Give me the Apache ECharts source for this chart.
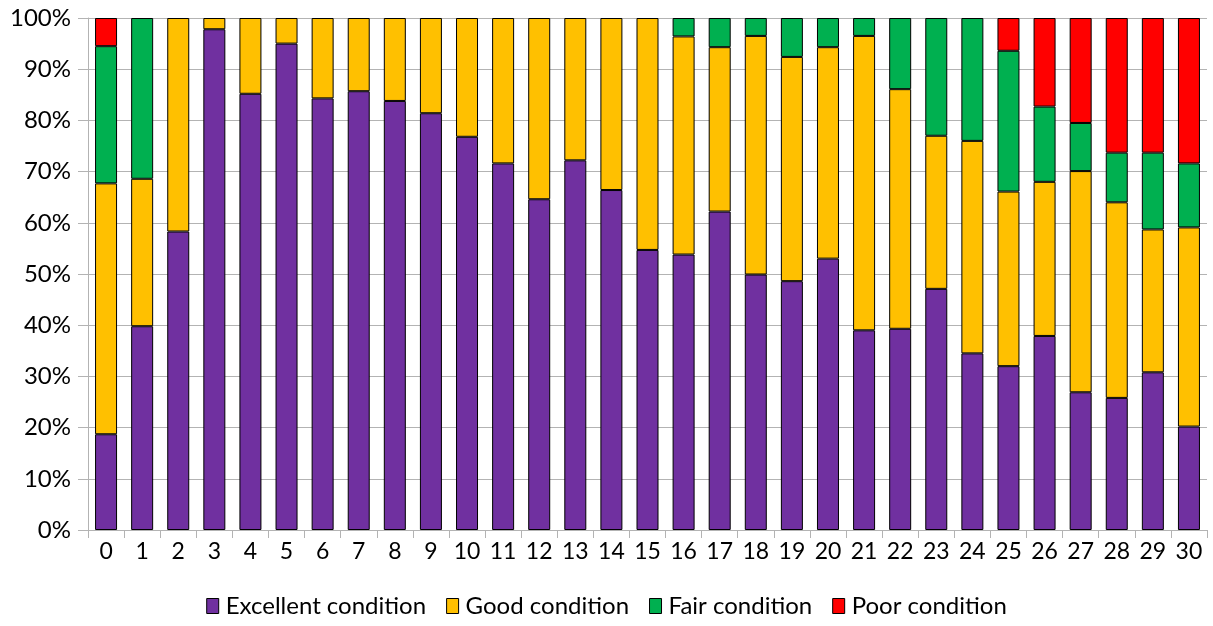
<!DOCTYPE html>
<html>
<head>
<meta charset="utf-8">
<script src="https://cdn.jsdelivr.net/npm/echarts@6/dist/echarts.min.js"></script>
<style>
  html, body { margin: 0; padding: 0; background: #fff; }
  #chart { width: 1213px; height: 626px; }
</style>
</head>
<body>
<div id="chart"></div>
<script>
// categories 0..30
var categories = [];
for (var i = 0; i <= 30; i++) categories.push(String(i));

// percentages
var excellent = [18.7, 39.8, 58.3, 97.8, 85.2, 95.0, 84.3, 85.7, 83.8, 81.4, 76.8, 71.6, 64.6, 72.2, 66.4, 54.7,
  53.8, 62.2, 49.9, 48.6, 53.0, 39.0, 39.3, 47.1, 34.5, 32.0, 37.9, 26.9, 25.8, 30.8, 20.2];
var good = [49.0, 28.8, 41.7, 2.2, 14.8, 5.0, 15.7, 14.3, 16.2, 18.6, 23.2, 28.4, 35.4, 27.8, 33.6, 45.3,
  42.6, 32.1, 46.6, 43.8, 41.3, 57.5, 46.8, 29.9, 41.5, 34.1, 30.1, 43.2, 38.2, 27.9, 38.9];
var fair = [26.8, 31.4, 0, 0, 0, 0, 0, 0, 0, 0, 0, 0, 0, 0, 0, 0,
  3.6, 5.7, 3.5, 7.6, 5.7, 3.5, 13.9, 23.0, 24.0, 27.5, 14.7, 9.4, 9.7, 15.0, 12.5];
var poor = [5.5, 0, 0, 0, 0, 0, 0, 0, 0, 0, 0, 0, 0, 0, 0, 0,
  0, 0, 0, 0, 0, 0, 0, 0, 0, 6.4, 17.3, 20.5, 26.3, 26.3, 28.4];

var seriesNames = ['Excellent condition', 'Good condition', 'Fair condition', 'Poor condition'];
var seriesData = [excellent, good, fair, poor];
var colors = ['#7030a0', '#ffc000', '#00b050', '#ff0000'];

var font = 'Lato, "Liberation Sans", sans-serif';

var chart = echarts.init(document.getElementById('chart'), null, { renderer: 'canvas' });

var series = seriesNames.map(function (name, k) {
  return {
    name: name,
    type: 'bar',
    stack: 'total',
    barWidth: 22,
    // empty segments left out so they don't draw a border line
    data: seriesData[k].map(function (v) { return v === 0 ? '-' : v; }),
    itemStyle: { color: colors[k], borderColor: '#000', borderWidth: 1 }
  };
});

chart.setOption({
  animation: false,
  color: colors,
  grid: { left: 88, right: 6, top: 18, bottom: 96, containLabel: false },
  legend: {
    bottom: 3,
    left: 'center',
    itemWidth: 12,
    itemHeight: 15,
    itemGap: 20,
    icon: 'rect',
    itemStyle: { borderColor: '#000', borderWidth: 1 },
    textStyle: { fontFamily: font, fontSize: 24, color: '#000', padding: [0, 0, 0, 2] },
    data: seriesNames
  },
  xAxis: {
    type: 'category',
    data: categories,
    boundaryGap: true,
    axisLine: { lineStyle: { color: '#b3b3b3', width: 1 } },
    axisTick: { show: true, alignWithLabel: false, length: 8, lineStyle: { color: '#b3b3b3' } },
    axisLabel: { fontFamily: font, fontSize: 23, color: '#000', margin: 10, interval: 0 }
  },
  yAxis: {
    type: 'value',
    min: 0,
    max: 100,
    interval: 10,
    axisLine: { show: true, lineStyle: { color: '#b3b3b3', width: 1 } },
    axisTick: { show: true, length: 10, lineStyle: { color: '#b3b3b3' } },
    splitLine: { lineStyle: { color: '#b3b3b3', width: 1 } },
    axisLabel: { fontFamily: font, fontSize: 24, color: '#000', margin: 17, formatter: '{value}%' }
  },
  series: series
});
</script>
</body>
</html>
